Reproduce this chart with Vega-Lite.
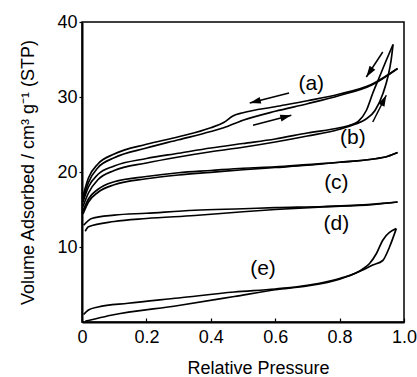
{
  "$schema": "https://vega.github.io/schema/vega-lite/v6.json",
  "width": 322,
  "height": 300,
  "autosize": {"type": "none"},
  "padding": {"left": 82, "top": 22, "right": 13, "bottom": 55},
  "background": "white",
  "config": {
    "font": "Liberation Sans",
    "view": {"stroke": "black", "strokeWidth": 1.5},
    "axis": {
      "domainColor": "black", "domainWidth": 2, "tickColor": "black", "tickWidth": 1.2,
      "grid": false, "labelColor": "black", "titleColor": "black",
      "labelFont": "Liberation Sans", "titleFont": "Liberation Sans",
      "labelFontSize": 18, "titleFontSize": 18, "titleFontWeight": "normal"
    }
  },
  "datasets": {
    "curves": [
      {"s":"a1","p":0.003,"v":16.3},{"s":"a1","p":0.02,"v":18.6},{"s":"a1","p":0.05,"v":20.6},{"s":"a1","p":0.1,"v":21.9},{"s":"a1","p":0.2,"v":23.2},{"s":"a1","p":0.3,"v":24.3},{"s":"a1","p":0.4,"v":25.4},{"s":"a1","p":0.44,"v":25.9},{"s":"a1","p":0.5,"v":26.9},{"s":"a1","p":0.6,"v":28.1},{"s":"a1","p":0.7,"v":29.1},{"s":"a1","p":0.8,"v":30.2},{"s":"a1","p":0.9,"v":31.6},{"s":"a1","p":0.98,"v":33.8},
      {"s":"a2","p":0.003,"v":16.8},{"s":"a2","p":0.02,"v":19.2},{"s":"a2","p":0.05,"v":21.1},{"s":"a2","p":0.1,"v":22.4},{"s":"a2","p":0.2,"v":23.7},{"s":"a2","p":0.3,"v":24.7},{"s":"a2","p":0.4,"v":25.9},{"s":"a2","p":0.44,"v":26.6},{"s":"a2","p":0.47,"v":27.5},{"s":"a2","p":0.5,"v":27.9},{"s":"a2","p":0.6,"v":28.7},{"s":"a2","p":0.7,"v":29.5},{"s":"a2","p":0.8,"v":30.4},{"s":"a2","p":0.9,"v":31.7},{"s":"a2","p":0.98,"v":33.8},
      {"s":"b1","p":0.003,"v":15.4},{"s":"b1","p":0.02,"v":17.2},{"s":"b1","p":0.05,"v":19.0},{"s":"b1","p":0.1,"v":20.2},{"s":"b1","p":0.2,"v":21.2},{"s":"b1","p":0.3,"v":22.0},{"s":"b1","p":0.4,"v":22.7},{"s":"b1","p":0.5,"v":23.3},{"s":"b1","p":0.6,"v":24.0},{"s":"b1","p":0.7,"v":24.8},{"s":"b1","p":0.8,"v":25.7},{"s":"b1","p":0.85,"v":26.4},{"s":"b1","p":0.88,"v":27.0},{"s":"b1","p":0.91,"v":28.2},{"s":"b1","p":0.935,"v":30.5},{"s":"b1","p":0.95,"v":32.7},{"s":"b1","p":0.96,"v":34.9},{"s":"b1","p":0.966,"v":37.0},
      {"s":"b2","p":0.003,"v":16.0},{"s":"b2","p":0.02,"v":18.0},{"s":"b2","p":0.05,"v":19.7},{"s":"b2","p":0.1,"v":20.8},{"s":"b2","p":0.2,"v":21.8},{"s":"b2","p":0.3,"v":22.5},{"s":"b2","p":0.4,"v":23.2},{"s":"b2","p":0.5,"v":23.8},{"s":"b2","p":0.6,"v":24.4},{"s":"b2","p":0.7,"v":25.2},{"s":"b2","p":0.8,"v":25.9},{"s":"b2","p":0.83,"v":26.2},{"s":"b2","p":0.857,"v":26.7},{"s":"b2","p":0.883,"v":28.2},{"s":"b2","p":0.903,"v":30.5},{"s":"b2","p":0.924,"v":32.7},{"s":"b2","p":0.945,"v":34.9},{"s":"b2","p":0.966,"v":37.0},
      {"s":"c1","p":0.003,"v":14.4},{"s":"c1","p":0.02,"v":16.0},{"s":"c1","p":0.05,"v":17.3},{"s":"c1","p":0.1,"v":18.3},{"s":"c1","p":0.2,"v":19.1},{"s":"c1","p":0.3,"v":19.6},{"s":"c1","p":0.4,"v":19.95},{"s":"c1","p":0.5,"v":20.3},{"s":"c1","p":0.6,"v":20.6},{"s":"c1","p":0.7,"v":20.9},{"s":"c1","p":0.8,"v":21.3},{"s":"c1","p":0.9,"v":21.7},{"s":"c1","p":0.95,"v":22.1},{"s":"c1","p":0.98,"v":22.6},
      {"s":"c2","p":0.003,"v":14.8},{"s":"c2","p":0.02,"v":16.4},{"s":"c2","p":0.05,"v":17.7},{"s":"c2","p":0.1,"v":18.7},{"s":"c2","p":0.2,"v":19.4},{"s":"c2","p":0.3,"v":19.9},{"s":"c2","p":0.4,"v":20.2},{"s":"c2","p":0.5,"v":20.5},{"s":"c2","p":0.6,"v":20.7},{"s":"c2","p":0.7,"v":21.0},{"s":"c2","p":0.8,"v":21.3},{"s":"c2","p":0.9,"v":21.7},{"s":"c2","p":0.95,"v":22.1},{"s":"c2","p":0.98,"v":22.6},
      {"s":"d1","p":0.01,"v":12.1},{"s":"d1","p":0.02,"v":12.7},{"s":"d1","p":0.1,"v":13.4},{"s":"d1","p":0.2,"v":13.8},{"s":"d1","p":0.35,"v":14.2},{"s":"d1","p":0.5,"v":14.7},{"s":"d1","p":0.6,"v":15.0},{"s":"d1","p":0.75,"v":15.35},{"s":"d1","p":0.9,"v":15.65},{"s":"d1","p":0.98,"v":16.0},
      {"s":"d2","p":0.005,"v":12.9},{"s":"d2","p":0.03,"v":13.8},{"s":"d2","p":0.1,"v":14.25},{"s":"d2","p":0.2,"v":14.5},{"s":"d2","p":0.35,"v":14.9},{"s":"d2","p":0.5,"v":15.1},{"s":"d2","p":0.6,"v":15.25},{"s":"d2","p":0.75,"v":15.4},{"s":"d2","p":0.9,"v":15.7},{"s":"d2","p":0.98,"v":16.0},
      {"s":"e1","p":0.01,"v":0.1},{"s":"e1","p":0.02,"v":0.2},{"s":"e1","p":0.09,"v":0.9},{"s":"e1","p":0.3,"v":2.2},{"s":"e1","p":0.473,"v":3.4},{"s":"e1","p":0.6,"v":4.3},{"s":"e1","p":0.7,"v":4.8},{"s":"e1","p":0.8,"v":5.7},{"s":"e1","p":0.87,"v":6.9},{"s":"e1","p":0.903,"v":7.6},{"s":"e1","p":0.934,"v":8.2},{"s":"e1","p":0.955,"v":10.0},{"s":"e1","p":0.976,"v":12.45},
      {"s":"e2","p":0.005,"v":1.0},{"s":"e2","p":0.02,"v":1.6},{"s":"e2","p":0.05,"v":2.0},{"s":"e2","p":0.143,"v":2.5},{"s":"e2","p":0.3,"v":3.2},{"s":"e2","p":0.473,"v":4.0},{"s":"e2","p":0.6,"v":4.4},{"s":"e2","p":0.7,"v":4.9},{"s":"e2","p":0.8,"v":5.8},{"s":"e2","p":0.87,"v":7.0},{"s":"e2","p":0.893,"v":7.8},{"s":"e2","p":0.914,"v":9.1},{"s":"e2","p":0.934,"v":10.9},{"s":"e2","p":0.976,"v":12.45}
    ],
    "labels": [
      {"t":"(a)","p":0.712,"v":31.8},
      {"t":"(b)","p":0.841,"v":24.5},
      {"t":"(c)","p":0.79,"v":18.5},
      {"t":"(d)","p":0.79,"v":13.1},
      {"t":"(e)","p":0.562,"v":7.1}
    ],
    "arrows": [
      {"id":"A1","p":0.643,"v":30.53,"p2":0.521,"v2":29.2},
      {"id":"A2","p":0.531,"v":26.23,"p2":0.65,"v2":27.56},
      {"id":"A3","p":0.934,"v":36.0,"p2":0.883,"v2":32.67},
      {"id":"A4","p":0.903,"v":26.67,"p2":0.945,"v2":30.23}
    ]
  },
  "layer": [
    {
      "data": {"name": "curves"},
      "mark": {"type": "line", "color": "black", "strokeWidth": 1.7, "interpolate": "monotone"},
      "encoding": {
        "x": {"field": "p", "type": "quantitative",
          "scale": {"domain": [0, 1], "nice": false, "zero": false},
          "axis": {"title": "Relative Pressure", "values": [0, 0.2, 0.4, 0.6, 0.8, 1],
            "labelExpr": "datum.value == 0 ? '0' : format(datum.value, '.1f')",
            "tickSize": -4, "labelPadding": 10, "labelBaseline": "top", "labelFlush": false,
            "titleX": 176, "titleY": 51, "titleAlign": "center", "titleBaseline": "alphabetic", "titleAnchor": null}},
        "y": {"field": "v", "type": "quantitative",
          "scale": {"domain": [0, 40], "nice": false, "zero": false},
          "axis": {"title": "Volume Adsorbed / cm³ g⁻¹ (STP)", "values": [10, 20, 30, 40],
            "tickSize": 3, "labelPadding": 2, "labelBaseline": "middle",
            "titleX": -49, "titleY": 150, "titleAngle": -90, "titleAlign": "center", "titleBaseline": "alphabetic"}},
        "detail": {"field": "s", "type": "nominal"}
      }
    },
    {
      "data": {"name": "labels"},
      "mark": {"type": "text", "fontSize": 21, "font": "Liberation Sans", "color": "black", "align": "center", "baseline": "middle"},
      "encoding": {
        "x": {"field": "p", "type": "quantitative"},
        "y": {"field": "v", "type": "quantitative"},
        "text": {"field": "t", "type": "nominal"}
      }
    },
    {
      "data": {"name": "arrows"},
      "mark": {"type": "rule", "color": "black", "strokeWidth": 1.5},
      "encoding": {
        "x": {"field": "p", "type": "quantitative"},
        "y": {"field": "v", "type": "quantitative"},
        "x2": {"field": "p2"},
        "y2": {"field": "v2"}
      }
    },
    {
      "data": {"name": "arrows"},
      "transform": [{"filter": "datum.id == 'A1'"}],
      "mark": {"type": "point", "shape": "M0,0L0.75,2.4L-0.75,2.4Z", "filled": true, "color": "black", "opacity": 1, "size": 85, "angle": 255.7},
      "encoding": {"x": {"field": "p2", "type": "quantitative"}, "y": {"field": "v2", "type": "quantitative"}}
    },
    {
      "data": {"name": "arrows"},
      "transform": [{"filter": "datum.id == 'A2'"}],
      "mark": {"type": "point", "shape": "M0,0L0.75,2.4L-0.75,2.4Z", "filled": true, "color": "black", "opacity": 1, "size": 85, "angle": 75.4},
      "encoding": {"x": {"field": "p2", "type": "quantitative"}, "y": {"field": "v2", "type": "quantitative"}}
    },
    {
      "data": {"name": "arrows"},
      "transform": [{"filter": "datum.id == 'A3'"}],
      "mark": {"type": "point", "shape": "M0,0L0.75,2.4L-0.75,2.4Z", "filled": true, "color": "black", "opacity": 1, "size": 85, "angle": 213.6},
      "encoding": {"x": {"field": "p2", "type": "quantitative"}, "y": {"field": "v2", "type": "quantitative"}}
    },
    {
      "data": {"name": "arrows"},
      "transform": [{"filter": "datum.id == 'A4'"}],
      "mark": {"type": "point", "shape": "M0,0L0.75,2.4L-0.75,2.4Z", "filled": true, "color": "black", "opacity": 1, "size": 85, "angle": 26.6},
      "encoding": {"x": {"field": "p2", "type": "quantitative"}, "y": {"field": "v2", "type": "quantitative"}}
    }
  ]
}
